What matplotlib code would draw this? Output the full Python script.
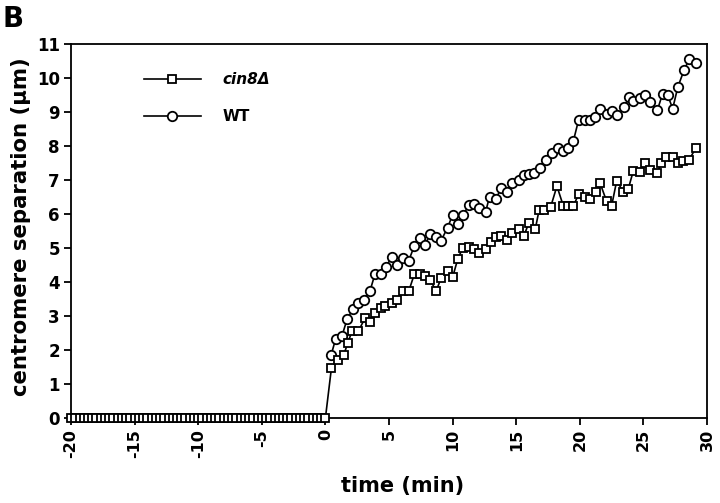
import matplotlib
matplotlib.use("Agg")
import matplotlib.pyplot as plt

plt.rcParams['font.family'] = ['DejaVu Sans']
plt.rcParams['font.weight'] = 'bold'

# time before anaphase onset (cin8 only shown, all zero)
t_pre = [-20.0, -19.67, -19.33, -19.0, -18.67, -18.33, -18.0, -17.67, -17.33, -17.0,
         -16.67, -16.33, -16.0, -15.67, -15.33, -15.0, -14.67, -14.33, -14.0, -13.67,
         -13.33, -13.0, -12.67, -12.33, -12.0, -11.67, -11.33, -11.0, -10.67, -10.33,
         -10.0, -9.67, -9.33, -9.0, -8.67, -8.33, -8.0, -7.67, -7.33, -7.0,
         -6.67, -6.33, -6.0, -5.67, -5.33, -5.0, -4.67, -4.33, -4.0, -3.67,
         -3.33, -3.0, -2.67, -2.33, -2.0, -1.67, -1.33, -1.0, -0.67, -0.33]
v_pre = [0, 0, 0, 0, 0, 0, 0, 0, 0, 0, 0, 0, 0, 0, 0, 0, 0, 0, 0, 0,
         0, 0, 0, 0, 0, 0, 0, 0, 0, 0, 0, 0, 0, 0, 0, 0, 0, 0, 0, 0,
         0, 0, 0, 0, 0, 0, 0, 0, 0, 0, 0, 0, 0, 0, 0, 0, 0, 0, 0, 0]

cin8_t = [0.0, 0.47, 0.97, 1.44, 1.75, 2.1, 2.6, 3.1, 3.5, 3.9, 4.4, 4.7, 5.2, 5.6,
          6.1, 6.55, 7.0, 7.4, 7.8, 8.25, 8.7, 9.1, 9.6, 10.0, 10.4, 10.8, 11.3,
          11.7, 12.1, 12.6, 13.0, 13.4, 13.8, 14.3, 14.7, 15.2, 15.6, 16.0, 16.5,
          16.8, 17.2, 17.7, 18.2, 18.7, 19.1, 19.5, 19.9, 20.4, 20.8, 21.3, 21.6,
          22.1, 22.5, 22.9, 23.4, 23.8, 24.2, 24.7, 25.1, 25.5, 26.1, 26.4, 26.8,
          27.3, 27.7, 28.1, 28.6, 29.1]
cin8_v = [0.0, 1.46, 1.7, 1.85, 2.2, 2.56, 2.56, 2.93, 2.83, 3.08, 3.23, 3.29, 3.37,
          3.47, 3.73, 3.73, 4.24, 4.24, 4.19, 4.06, 3.73, 4.12, 4.33, 4.14, 4.67,
          5.01, 5.04, 4.96, 4.84, 4.96, 5.19, 5.31, 5.35, 5.25, 5.43, 5.56, 5.35,
          5.75, 5.56, 6.12, 6.12, 6.2, 6.82, 6.24, 6.24, 6.24, 6.58, 6.49, 6.43,
          6.66, 6.9, 6.38, 6.24, 6.98, 6.66, 6.73, 7.26, 7.25, 7.5, 7.3, 7.22,
          7.49, 7.67, 7.67, 7.5, 7.57, 7.6, 7.93]

wt_t = [0.45, 0.8, 1.3, 1.7, 2.15, 2.6, 3.0, 3.5, 3.9, 4.4, 4.8, 5.2, 5.6, 6.1,
        6.55, 7.0, 7.4, 7.8, 8.25, 8.7, 9.1, 9.6, 10.0, 10.4, 10.8, 11.3, 11.7,
        12.1, 12.6, 12.9, 13.4, 13.8, 14.3, 14.7, 15.2, 15.6, 16.0, 16.4, 16.9,
        17.35, 17.8, 18.3, 18.7, 19.05, 19.5, 19.9, 20.4, 20.8, 21.2, 21.6, 22.1,
        22.5, 22.9, 23.5, 23.9, 24.2, 24.7, 25.1, 25.55, 26.1, 26.5, 26.9, 27.3,
        27.7, 28.2, 28.6, 29.15]
wt_v = [1.85, 2.32, 2.41, 2.9, 3.2, 3.39, 3.47, 3.73, 4.24, 4.24, 4.45, 4.75, 4.5,
        4.7, 4.63, 5.07, 5.28, 5.09, 5.4, 5.31, 5.22, 5.6, 5.97, 5.72, 5.97, 6.26,
        6.29, 6.17, 6.07, 6.51, 6.43, 6.76, 6.66, 6.9, 7.0, 7.15, 7.18, 7.2, 7.34,
        7.6, 7.8, 7.93, 7.85, 7.93, 8.16, 8.76, 8.76, 8.76, 8.86, 9.1, 8.94, 9.03,
        8.91, 9.16, 9.45, 9.32, 9.4, 9.5, 9.3, 9.06, 9.53, 9.5, 9.1, 9.73, 10.24,
        10.55, 10.45]

series_labels = ["cin8Δ", "WT"]
x_ticks = [-20, -15, -10, -5, 0, 5, 10, 15, 20, 25, 30]
y_ticks = [0, 1, 2, 3, 4, 5, 6, 7, 8, 9, 10, 11]

fig = plt.figure(figsize=(7.2, 5.03), dpi=100)
ax = fig.add_axes([0.0986, 0.169, 0.8834, 0.7435])

mk = dict(color='black', lw=1.2, markerfacecolor='white', markeredgecolor='black',
          markeredgewidth=1.3, clip_on=False)
ax.plot(wt_t, wt_v, marker='o', markersize=6.8, label=series_labels[1], zorder=3, **mk)
ax.plot(t_pre + cin8_t, v_pre + cin8_v, marker='s', markersize=6.3,
        label=series_labels[0], zorder=4, **mk)

ax.set_xlim(-20, 30)
ax.set_ylim(0, 11)
ax.set_xticks(x_ticks)
ax.set_yticks(y_ticks)
ax.set_xticklabels([str(v) for v in x_ticks], rotation=90, fontsize=11.5, fontweight='bold')
ax.set_yticklabels([str(v) for v in y_ticks], fontsize=12, fontweight='bold')
ax.tick_params(direction='out', length=5, width=1.3, pad=3)
for s in ax.spines.values():
    s.set_linewidth(1.3)

ax.set_xlabel("time (min)", fontsize=15, fontweight='bold')
ax.set_ylabel("centromere separation (μm)", fontsize=15.3, fontweight='bold')
ax.xaxis.set_label_coords(0.522, -0.155)
ax.yaxis.set_label_coords(-0.063, 0.513)

handles, labels = ax.get_legend_handles_labels()
leg = ax.legend(handles[::-1], labels[::-1], loc='upper left',
                bbox_to_anchor=(0.115, 0.925), frameon=False, borderpad=0,
                borderaxespad=0, handlelength=3.7, handletextpad=1.4,
                labelspacing=1.45, prop={'size': 11, 'weight': 'bold'})
leg.get_texts()[0].set_fontstyle('italic')

fig.text(0.004, 0.99, "B", fontsize=20, fontweight='bold', va='top', ha='left')

fig.savefig("out.png", dpi=100)
